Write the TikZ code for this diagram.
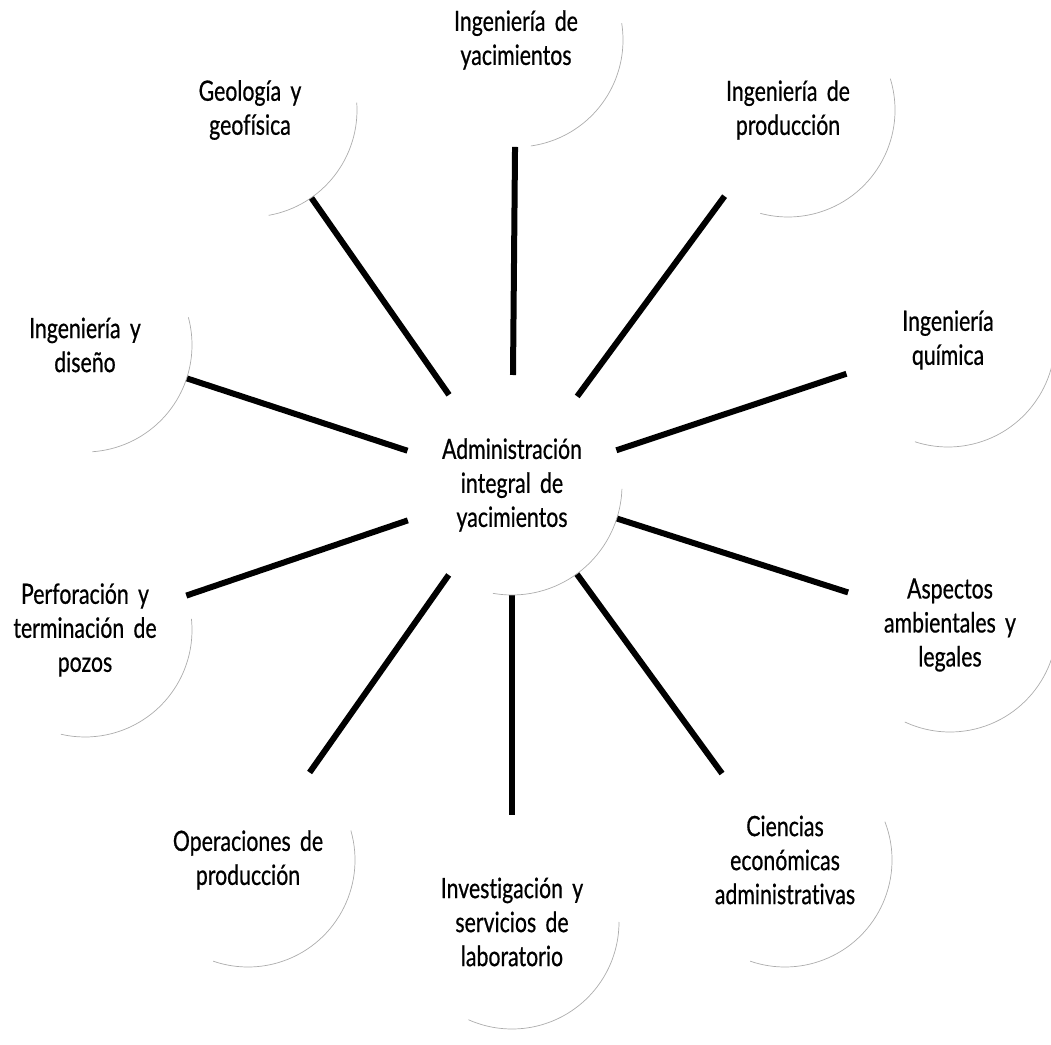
\documentclass[tikz,border=0pt]{standalone}
\usepackage{fontspec}
\setmainfont{Lato}[FakeStretch=0.76, FakeBold=0.6, WordSpace=1.7,
  Ligatures={NoCommon,NoRare,NoDiscretionary}]
\tikzset{
  topic/.style={circle, minimum size=214pt, inner sep=0pt, outer sep=0pt,
    align=center, font=\fontsize{28}{34}\selectfont},
  hub/.style={topic, minimum size=220pt},
  link/.style={line width=6pt},
  rim/.style={gray!65, line width=0.7pt},
}
\begin{document}
\begin{tikzpicture}[x=1pt,y=1pt]
\useasboundingbox (0,0) rectangle (1051,1044);

% central topic
\node[hub] (c) at (512,559) {Administración\\integral de\\yacimientos};

% surrounding disciplines
\node[topic] (yac)  at (516,1004) {Ingeniería de\\yacimientos};
\node[topic] (geo)  at (250,934)  {Geología y\\geofísica};
\node[topic] (prod) at (788,934)  {Ingeniería de\\producción};
\node[topic] (quim) at (948,704)  {Ingeniería\\química};
\node[topic] (amb)  at (950,419)  {Aspectos\\ambientales y\\legales};
\node[topic] (eco)  at (785,184)  {Ciencias\\económicas\\administrativas};
\node[topic] (lab)  at (512,122)  {Investigación y\\servicios de\\laboratorio};
\node[topic] (oper) at (248,184)  {Operaciones de\\producción};
\node[topic] (perf) at (85,414)   {Perforación y\\terminación de\\pozos};
\node[topic] (dis)  at (85,699)   {Ingeniería y\\diseño};

% spokes
\foreach \n in {yac,geo,prod,quim,amb,eco,lab,oper,perf,dis}
  \draw[link] (c) -- (\n);

% faint lower-right rims of the circles
\draw[rim] (c.-2) arc[start angle=-2, end angle=-100, radius=110pt];
\foreach \n/\a/\b in {yac/9/-82, geo/4/-80, prod/17/-105, quim/10/-108,
    amb/5/-115, eco/21/-109, lab/0/-114, oper/16/-109, perf/6/-103, dis/15/-86}
  \draw[rim] (\n.\a) arc[start angle=\a, end angle=\b, radius=107pt];
\end{tikzpicture}
\end{document}
